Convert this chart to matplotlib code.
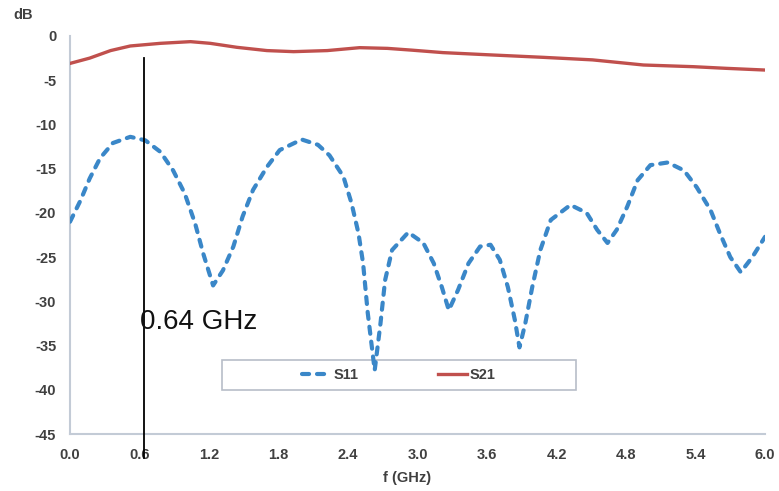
import matplotlib.pyplot as plt
from matplotlib.patches import Rectangle

plt.rcParams["font.family"] = ["Liberation Sans", "DejaVu Sans"]
plt.rcParams["axes.unicode_minus"] = False

# S11 (GHz, dB)
s11_f = [0.00, 0.09, 0.17, 0.26, 0.37, 0.52, 0.65, 0.78, 0.89, 0.99,
         1.08, 1.15, 1.235, 1.32, 1.41, 1.49, 1.58, 1.70, 1.81, 2.00,
         2.14, 2.24, 2.36, 2.43, 2.49, 2.53, 2.57, 2.63, 2.68, 2.72,
         2.78, 2.92, 3.05, 3.14, 3.21, 3.27, 3.35, 3.44, 3.54, 3.63,
         3.71, 3.78, 3.84, 3.88, 3.93, 3.99, 4.06, 4.15, 4.32, 4.46,
         4.55, 4.64, 4.72, 4.81, 4.90, 5.01, 5.16, 5.30, 5.41, 5.53,
         5.61, 5.70, 5.79, 5.89, 6.00]
s11_db = [-21.0, -18.6, -16.1, -13.8, -12.1, -11.4, -11.8, -13.1, -15.2, -17.8,
          -21.2, -24.6, -28.2, -26.5, -23.8, -20.4, -17.4, -14.8, -12.9, -11.7,
          -12.3, -13.5, -15.9, -18.9, -22.3, -25.7, -31.3, -37.8, -32.5, -27.6,
          -24.2, -22.2, -23.4, -25.7, -28.4, -31.0, -28.7, -25.7, -23.8, -23.6,
          -25.3, -28.4, -32.1, -35.2, -32.5, -28.4, -24.2, -20.8, -19.1, -20.0,
          -21.9, -23.4, -21.9, -19.3, -16.3, -14.6, -14.3, -15.2, -17.1, -19.7,
          -22.3, -25.0, -26.7, -25.0, -22.7]

# S21 (GHz, dB)
s21_f = [0.00, 0.17, 0.35, 0.52, 0.78, 1.04, 1.21, 1.44, 1.70, 1.93,
         2.22, 2.50, 2.74, 2.95, 3.22, 3.65, 4.08, 4.51, 4.95, 5.38,
         5.67, 6.00]
s21_db = [-3.1, -2.5, -1.65, -1.13, -0.83, -0.64, -0.83, -1.28, -1.65, -1.77,
          -1.65, -1.32, -1.4, -1.6, -1.88, -2.15, -2.41, -2.7, -3.28, -3.47,
          -3.66, -3.85]

x_ticks = [0.0, 0.6, 1.2, 1.8, 2.4, 3.0, 3.6, 4.2, 4.8, 5.4, 6.0]
y_ticks = [0, -5, -10, -15, -20, -25, -30, -35, -40, -45]

marker_f = 0.64
marker_label = "0.64 GHz"

blue = "#3a87c8"
red = "#c0504d"
spine_color = "#c3cbd6"
text_color = "#404040"

fig = plt.figure(figsize=(7.79, 4.91), dpi=100)
ax = fig.add_axes([0.0899, 0.116, 0.8922, 0.8107])

ax.plot(s11_f, s11_db, color=blue, linewidth=3.0, dashes=(1.7, 1.9),
        dash_capstyle="round", solid_joinstyle="round", label="S11",
        zorder=3)
ax.plot(s21_f, s21_db, color=red, linewidth=2.4, solid_joinstyle="round",
        label="S21", zorder=3)

ax.plot([marker_f, marker_f], [-2.5, -47.7], color="black",
        linewidth=1.3, clip_on=False, zorder=5)
ax.text(0.6, -33.1, marker_label, fontsize=20, va="baseline", ha="left",
        color="#111111", zorder=6)

ax.set_xlim(0, 6)
ax.set_ylim(-45, 0)
ax.set_xticks(x_ticks)
ax.set_xticklabels([f"{v:.1f}" for v in x_ticks])
ax.set_yticks(y_ticks)
ax.tick_params(axis="both", length=0, labelsize=10.5, labelcolor=text_color)
ax.tick_params(axis="y", pad=10)
ax.tick_params(axis="x", pad=10)
for lab in ax.get_xticklabels() + ax.get_yticklabels():
    lab.set_fontweight("bold")

for side in ["top", "right"]:
    ax.spines[side].set_visible(False)
for side in ["left", "bottom"]:
    ax.spines[side].set_color(spine_color)
    ax.spines[side].set_linewidth(1.5)

fig.text(0.017, 0.969, "dB", fontsize=10.5, fontweight="bold",
         color=text_color, va="center", ha="left")
fig.text(0.522, 0.027, "f (GHz)", fontsize=10.5, fontweight="bold",
         color=text_color, va="center", ha="center")

# legend frame sits under the curves, like in the source chart
box = Rectangle((0.285, 0.2057), 0.4544, 0.0611, transform=fig.transFigure,
                facecolor="white", edgecolor="#b8bec8", linewidth=1.2,
                zorder=1.5)
ax.add_patch(box)
leg = fig.legend(loc="center", bbox_to_anchor=(0.512, 0.2363), ncol=2,
                 frameon=False, fontsize=10.5, handlelength=2.0,
                 handletextpad=0.2, columnspacing=5.4)
for t in leg.get_texts():
    t.set_fontweight("bold")
    t.set_color(text_color)

fig.savefig("out.png", dpi=100)
